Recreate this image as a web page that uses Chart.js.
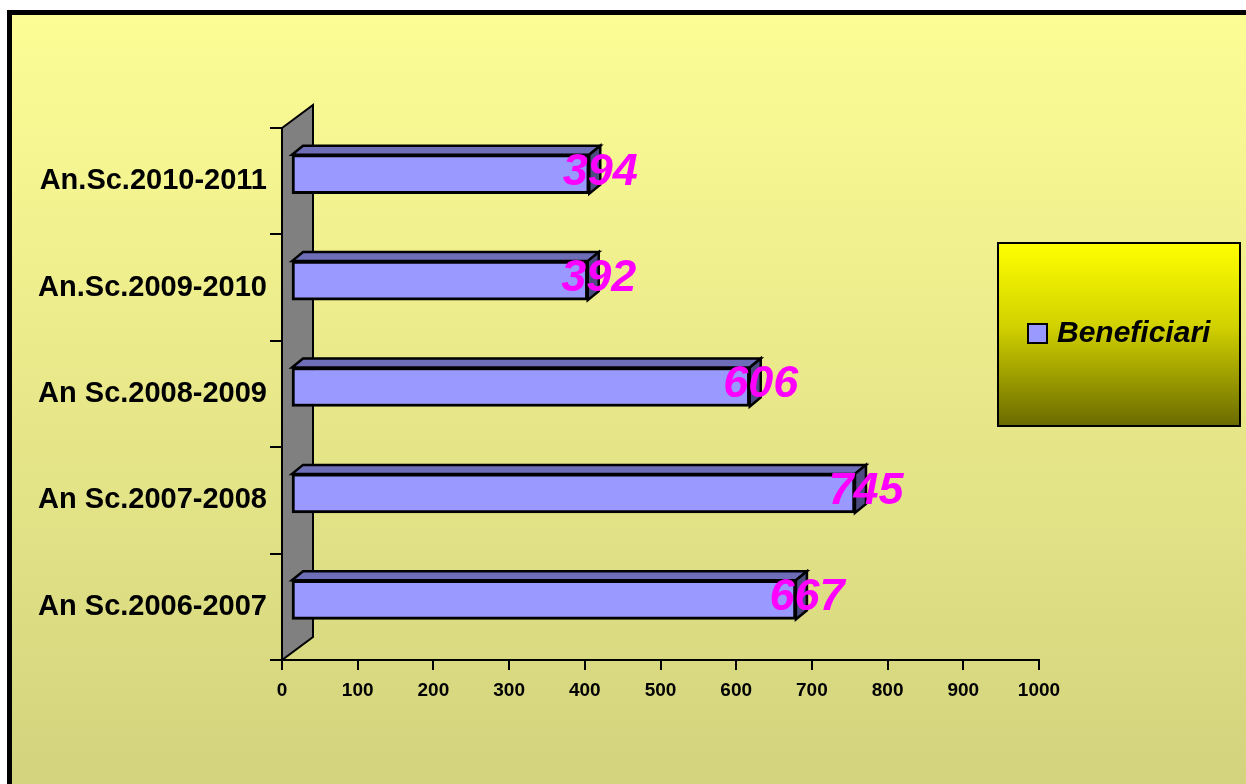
<!DOCTYPE html>
<html>
<head>
<meta charset="utf-8">
<script src="https://cdn.jsdelivr.net/npm/chart.js@4/dist/chart.umd.min.js"></script>
<style>
  html, body { margin: 0; padding: 0; background: #fff; }
  #wrap { position: relative; width: 1246px; height: 784px; }
</style>
</head>
<body>
<div id="wrap"><canvas id="c" width="1246" height="784"></canvas></div>
<script>
const categories = ['An Sc.2006-2007', 'An Sc.2007-2008', 'An Sc.2008-2009', 'An.Sc.2009-2010', 'An.Sc.2010-2011'];
const beneficiari = [667, 745, 606, 392, 394];
const seriesName = 'Beneficiari';
const xTicks = { min: 0, max: 1000, step: 100 };

const FONT = "'Liberation Sans', Arial, Helvetica, sans-serif";
const WALL_D = { dx: 31, dy: -23 };
const BAR_SHIFT = { dx: 9, dy: -7 };
const BAR_D = { dx: 11, dy: -9 };

const threeD = {
  id: 'threeD',
  beforeDraw(chart) {
    const ctx = chart.ctx;
    const g = ctx.createLinearGradient(0, 12, 0, 784);
    g.addColorStop(0, 'rgb(253,253,150)');
    g.addColorStop(1, 'rgb(211,211,126)');
    ctx.save();
    ctx.fillStyle = g;
    ctx.fillRect(0, 0, 1246, 784);
    ctx.fillStyle = '#fff';
    ctx.fillRect(0, 0, 1246, 10);
    ctx.fillRect(0, 0, 7, 784);
    ctx.strokeStyle = '#000';
    ctx.lineWidth = 5;
    ctx.strokeRect(9.5, 12.5, 1300, 900);
    ctx.restore();
  },
  beforeDatasetsDraw(chart) {
    const ctx = chart.ctx;
    const a = chart.chartArea;
    ctx.save();
    ctx.beginPath();
    ctx.moveTo(a.left, a.top);
    ctx.lineTo(a.left + WALL_D.dx, a.top + WALL_D.dy);
    ctx.lineTo(a.left + WALL_D.dx, a.bottom + WALL_D.dy);
    ctx.lineTo(a.left, a.bottom);
    ctx.closePath();
    ctx.fillStyle = '#808080';
    ctx.fill();
    ctx.strokeStyle = '#000';
    ctx.lineWidth = 2;
    ctx.lineJoin = 'miter';
    ctx.stroke();
    ctx.lineWidth = 2.5;
    const meta = chart.getDatasetMeta(0);
    meta.data.forEach(el => {
      const p = el.getProps(['x', 'y', 'base', 'height'], true);
      const x0 = p.base + BAR_SHIFT.dx, x1 = p.x + BAR_SHIFT.dx;
      const t = p.y - p.height / 2 + BAR_SHIFT.dy, b = p.y + p.height / 2 + BAR_SHIFT.dy;
      ctx.beginPath();
      ctx.moveTo(x0, t);
      ctx.lineTo(x0 + BAR_D.dx, t + BAR_D.dy);
      ctx.lineTo(x1 + BAR_D.dx, t + BAR_D.dy);
      ctx.lineTo(x1, t);
      ctx.closePath();
      ctx.fillStyle = '#6e6eb8';
      ctx.fill();
      ctx.stroke();
      ctx.beginPath();
      ctx.moveTo(x1, t);
      ctx.lineTo(x1 + BAR_D.dx, t + BAR_D.dy);
      ctx.lineTo(x1 + BAR_D.dx, b + BAR_D.dy);
      ctx.lineTo(x1, b);
      ctx.closePath();
      ctx.fillStyle = '#4c4c80';
      ctx.fill();
      ctx.stroke();
    });
    ctx.restore();
    ctx.save();
    ctx.translate(BAR_SHIFT.dx, BAR_SHIFT.dy);
  },
  afterDatasetsDraw(chart) {
    const ctx = chart.ctx;
    ctx.restore();
    ctx.save();
    const meta = chart.getDatasetMeta(0);
    const data = chart.data.datasets[0].data;
    ctx.font = "italic bold 45px " + FONT;
    ctx.fillStyle = '#ff00ff';
    ctx.textAlign = 'center';
    ctx.textBaseline = 'middle';
    meta.data.forEach((el, i) => {
      const p = el.getProps(['x', 'y'], true);
      ctx.fillText(String(data[i]), p.x + BAR_SHIFT.dx + BAR_D.dx, p.y + BAR_SHIFT.dy - 2);
    });
    ctx.restore();
  },
  afterDraw(chart) {
    const ctx = chart.ctx;
    ctx.save();
    const L = { x: 998, y: 243, w: 242, h: 183 };
    const g = ctx.createLinearGradient(0, L.y, 0, L.y + L.h);
    g.addColorStop(0, '#ffff00');
    g.addColorStop(0.45, '#d2d200');
    g.addColorStop(1, '#6a6a00');
    ctx.fillStyle = g;
    ctx.fillRect(L.x, L.y, L.w, L.h);
    ctx.strokeStyle = '#000';
    ctx.lineWidth = 2;
    ctx.strokeRect(L.x, L.y, L.w, L.h);
    ctx.fillStyle = '#9999ff';
    ctx.fillRect(1028, 324, 19, 19);
    ctx.strokeRect(1028, 324, 19, 19);
    ctx.fillStyle = '#000';
    ctx.font = "italic bold 30px " + FONT;
    ctx.textAlign = 'left';
    ctx.textBaseline = 'middle';
    ctx.fillText(chart.data.datasets[0].label, 1057, 334);
    ctx.restore();
  }
};

new Chart(document.getElementById('c'), {
  type: 'bar',
  data: {
    labels: categories,
    datasets: [{
      label: seriesName,
      data: beneficiari,
      backgroundColor: '#9999ff',
      borderColor: '#000',
      borderWidth: 3,
      borderSkipped: false,
      barThickness: 39
    }]
  },
  options: {
    indexAxis: 'y',
    responsive: false,
    animation: false,
    layout: { padding: { top: 128, right: 207, bottom: 0, left: 0 } },
    plugins: { legend: { display: false }, tooltip: { enabled: false } },
    scales: {
      x: {
        min: xTicks.min, max: xTicks.max,
        ticks: { stepSize: xTicks.step, color: '#000', font: { family: FONT, size: 19, weight: 'bold' }, padding: 9, maxRotation: 0,
                 callback: v => String(v) },
        grid: { drawOnChartArea: false, tickLength: 10, color: '#000', lineWidth: 2 },
        border: { display: true, color: '#000', width: 2 },
        afterFit(s) { s.height = 124; }
      },
      y: {
        reverse: true,
        ticks: { color: '#000', font: { family: FONT, size: 29, weight: 'bold' }, padding: 3 },
        grid: { offset: true, drawOnChartArea: false, tickLength: 12, color: '#000', lineWidth: 2 },
        border: { display: false },
        afterFit(s) { s.width = 282; }
      }
    }
  },
  plugins: [threeD]
});
</script>
</body>
</html>
